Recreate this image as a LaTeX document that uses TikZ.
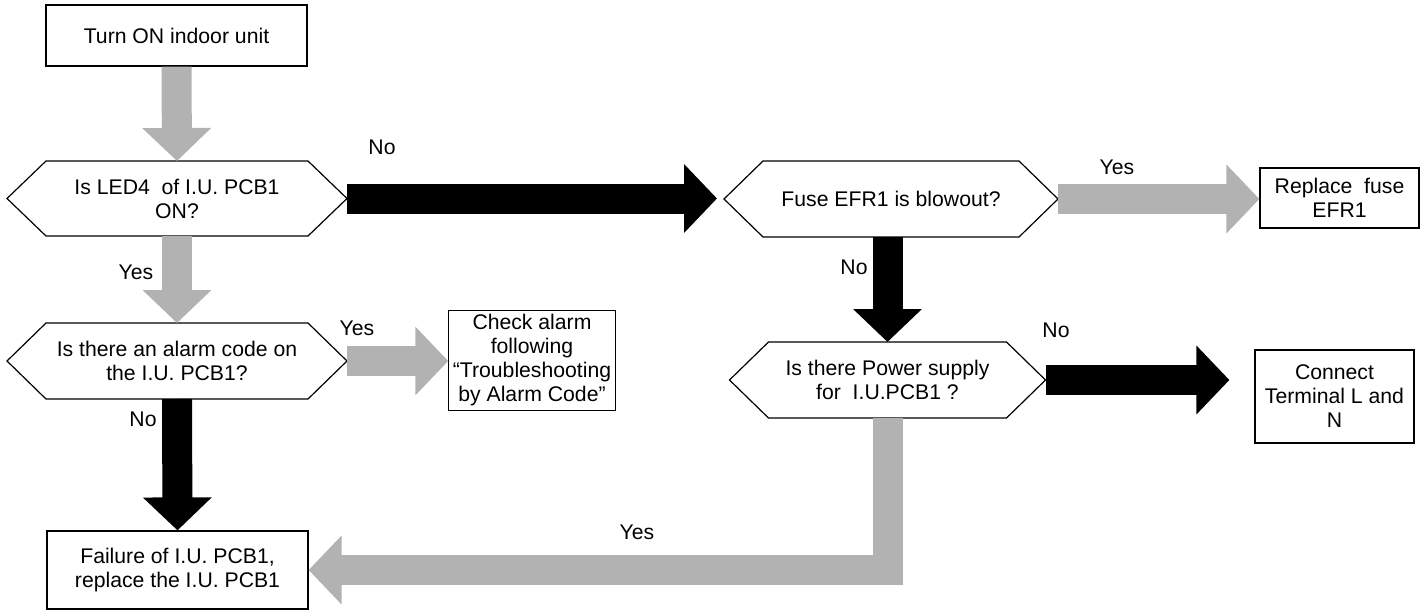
\documentclass[tikz,border=0pt]{standalone}
\usepackage{fontspec}
\setmainfont{Liberation Sans}
\usetikzlibrary{positioning, arrows.meta}
\definecolor{arrowGray}{HTML}{B2B2B2}

\begin{document}
\begin{tikzpicture}[
    x=0.5pt, y=-0.5pt,
    font=\fontsize{10.6}{12}\selectfont,
    box/.style={
        draw, line width=0.6pt, align=center, inner sep=2pt
    },
    decision/.style={
        align=center, inner sep=2pt, outer sep=0pt
    },
    hexEdge/.style={line width=0.6pt, line join=miter},
    flow/.style={line width=15pt, line join=miter, -{Triangle[width=33.5pt, length=16.5pt]}},
    yesArrow/.style={flow, draw=arrowGray},
    noArrow/.style={flow, draw=black},
    answer/.style={inner sep=0pt}
]
\useasboundingbox (0,0) rectangle (1424,610);

\node[box, minimum width=130.5pt, minimum height=30.5pt] (start) at (176.5, 35.5) {Turn ON indoor unit};

\node[decision, minimum width=170pt, minimum height=37.5pt] (led) at (177, 198.5) {Is LED4~~of I.U. PCB1\\ON?};
\node[decision, minimum width=170pt, minimum height=38pt] (alarm) at (177, 361) {Is there an alarm code on\\the I.U. PCB1?};
\node[box, minimum width=80pt, minimum height=49.5pt] (check) at (532, 360.5) {Check alarm\\following\\“Troubleshooting\\by Alarm Code”};
\node[box, minimum width=130.5pt, minimum height=39pt] (fail) at (177.5, 570) {Failure of I.U. PCB1,\\replace the I.U. PCB1};

\node[decision, minimum width=167pt, minimum height=38pt] (fuse) at (891, 199) {Fuse EFR1 is blowout?};
\node[box, minimum width=79.5pt, minimum height=30pt] (replace) at (1339.5, 198) {Replace~~fuse\\EFR1};
\node[decision, minimum width=158pt, minimum height=38pt] (power) at (887.5, 380) {Is there Power supply\\for~~I.U.PCB1 ?};
\node[box, minimum width=79.5pt, minimum height=46.5pt] (connect) at (1334.5, 396.5) {Connect\\Terminal L and\\N};

% hexagon outlines of the decisions
\foreach \d in {led, alarm, fuse, power}
    \draw[hexEdge] (\d.west) -- ([xshift=19.5pt]\d.north west) -- ([xshift=-19.5pt]\d.north east)
        -- (\d.east) -- ([xshift=-19.5pt]\d.south east) -- ([xshift=19.5pt]\d.south west) -- cycle;

% left column
\draw[yesArrow] (start.south) -- (led.north);
\draw[yesArrow] (led.south) -- (alarm.north);
\node[answer] (ledYes) at (136, 272) {Yes};
\draw[noArrow] (alarm.south) -- (fail.north);
\node[answer] (alarmNo) at (143, 419) {No};
\draw[yesArrow] (alarm.east) -- (alarm.east -| check.west);
\node[answer] (alarmYes) at (357, 328) {Yes};

% right column
\draw[noArrow, shorten >=3.5pt] (led.east) -- (led.east -| fuse.west);
\node[answer] (ledNo) at (382, 147) {No};
\draw[yesArrow] (fuse.east) -- (fuse.east -| replace.west);
\node[answer] (fuseYes) at (1117, 167) {Yes};
\draw[noArrow] (power.north |- fuse.south) -- (power.north);
\node[answer] (fuseNo) at (854, 267) {No};
\draw[noArrow, shorten >=12.5pt] (power.east) -- (power.east -| connect.west);
\node[answer] (powerNo) at (1056, 330) {No};
\draw[yesArrow] (power.south) |- (fail.east);
\node[answer] (powerYes) at (637, 532) {Yes};

\end{tikzpicture}
\end{document}
